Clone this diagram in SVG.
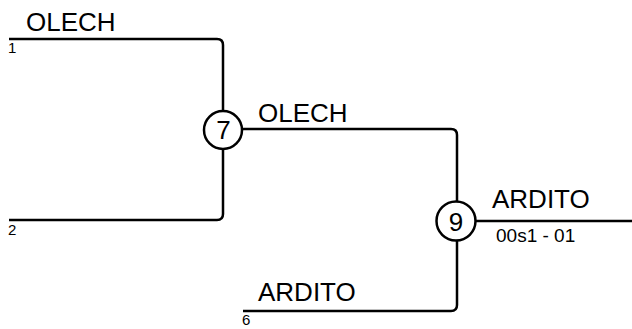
<svg xmlns="http://www.w3.org/2000/svg" width="632" height="329" viewBox="0 0 632 329">
<style>
.ln{fill:none;stroke:#000;stroke-width:2.5}
.nd{fill:#fff;stroke:#000;stroke-width:2.5}
.t{font-family:"Liberation Sans",Arial,sans-serif;fill:#000}
.big{font-size:26px}
.sm{font-size:15px}
.md{font-size:19px}
</style>
<rect width="632" height="329" fill="#fff"/>
<g id="connectors">
<path class="ln" d="M9,39 H217 Q223,39 223,45 V214 Q223,220 217,220 H9"/>
<path class="ln" d="M241,129 H451 Q457,129 457,135 V305 Q457,311 451,311 H243"/>
<path class="ln" d="M475,221 H632"/>
</g>
<g id="labels">
<text class="t big" x="26" y="31">OLECH</text>
<text class="t sm" x="8" y="53">1</text>
<text class="t sm" x="8" y="235">2</text>
<text class="t big" x="258" y="122">OLECH</text>
<text class="t big" x="492" y="208">ARDITO</text>
<text class="t md" x="496" y="242">00s1 - 01</text>
<text class="t big" x="258" y="301">ARDITO</text>
<text class="t sm" x="242" y="325">6</text>
</g>
<g id="node7">
<circle class="nd" cx="223" cy="130" r="19"/>
<text class="t big" x="223.5" y="139" text-anchor="middle">7</text>
</g>
<g id="node9">
<circle class="nd" cx="456" cy="221" r="19.5"/>
<text class="t big" x="456" y="230.5" text-anchor="middle">9</text>
</g>
</svg>
